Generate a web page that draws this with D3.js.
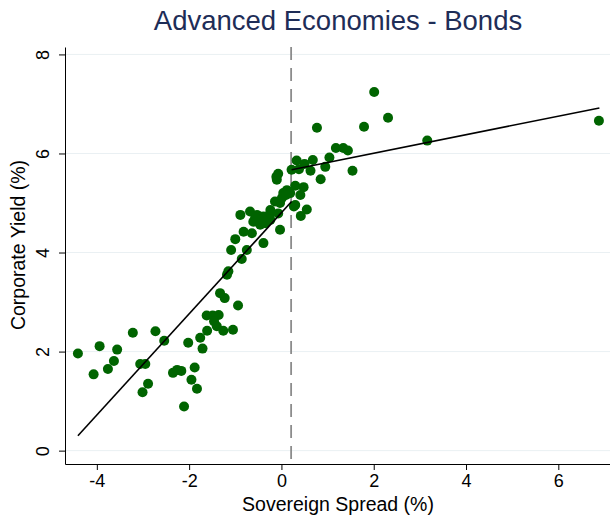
<!DOCTYPE html>
<html>
<head>
<meta charset="utf-8">
<script src="https://cdn.jsdelivr.net/npm/d3@7"></script>
<style>
  body { margin: 0; background: #fff; }
  text { font-family: "Liberation Sans", Arial, sans-serif; }
</style>
</head>
<body>
<div id="chart"></div>
<script>
// sovereign spread (x) and corporate yield (y)
const spread = [
  -4.41, -3.94, -3.56, -3.63, -3.76, -4.07, -3.22, -2.73, -2.54, -3.06,
  -2.95, -2.89, -3.01, -2.02, -1.76, -1.71, -1.88, -2.35, -2.26, -2.17,
  -1.95, -1.83, -2.11, -1.62, -1.49, -1.36, -1.46, -1.40, -1.61, -1.26,
  -1.05, -1.23, -1.33, -0.94, -1.15, -1.18, -1.09, -0.86, -0.75, -0.39,
  -1.00, -0.82, -0.64, -0.89, -0.68, -0.53, -0.61, -0.46, -0.35, -0.24,
  -0.03, -0.39, -0.50, -0.24, -0.14, -0.03, -0.10, -0.07, -0.11, 0.12,
  0.30, 0.48, 0.04, 0.19, 0.41, 0.30, 0.55, 0.42, 0.01, 0.27,
  -0.24, -0.07, 0.33, 0.50, 0.68, 0.95, 0.22, 0.38, 0.63, 1.54,
  0.85, 1.04, 1.18, 1.34, 1.44, 0.77, 1.79, 2.31, 2.01, 3.16,
  6.88, 0.10, -0.57
];
const corpYield = [
  1.96, 2.11, 2.04, 1.81, 1.65, 1.54, 2.38, 2.41, 2.22, 1.75,
  1.75, 1.35, 1.18, 2.18, 2.28, 2.06, 1.68, 1.57, 1.63, 1.61,
  1.43, 1.25, 0.89, 2.73, 2.73, 2.74, 2.61, 2.51, 2.42, 2.42,
  2.44, 3.08, 3.18, 2.93, 3.62, 3.55, 4.05, 3.87, 4.05, 4.19,
  4.27, 4.42, 4.39, 4.76, 4.83, 4.76, 4.62, 4.56, 4.59, 4.66,
  4.46, 4.73, 4.67, 4.79, 5.03, 5.00, 5.47, 5.59, 5.53, 5.26,
  5.35, 5.32, 5.20, 5.20, 5.16, 4.96, 4.87, 4.74, 5.10, 4.93,
  4.86, 4.79, 5.86, 5.79, 5.87, 5.73, 5.67, 5.68, 5.65, 5.65,
  5.48, 5.92, 6.11, 6.11, 6.06, 6.52, 6.54, 6.72, 7.24, 6.26,
  6.66, 5.16, 4.70
];

// fitted lines either side of the threshold
const threshold = 0.21;
const fitLowX = [-4.41, 0.22], fitLowY = [0.30, 5.03];
const fitHighX = [0.22, 6.89], fitHighY = [5.67, 6.92];

const xTicks = [-4, -2, 0, 2, 4, 6];
const yTicks = [0, 2, 4, 6, 8];

const width = 610, height = 521,
  margin = { top: 47, right: 0, bottom: 57, left: 65 };

const x = d3.scaleLinear().domain([-4.69, 7.12]).range([margin.left, width - margin.right]);
const y = d3.scaleLinear().domain([-0.27, 8.15]).range([height - margin.bottom, margin.top]);

const svg = d3.select("#chart").append("svg")
  .attr("width", width).attr("height", height);

// grid
svg.append("g").selectAll("line").data(yTicks).join("line")
  .attr("x1", margin.left).attr("x2", width - margin.right)
  .attr("y1", d => y(d)).attr("y2", d => y(d))
  .attr("stroke", "#eaf0f3").attr("stroke-width", 1);

// axes, plain hyphen for negatives like the original
const fmt = d => String(d);
const xAxis = svg.append("g")
  .attr("transform", `translate(0,${height - margin.bottom})`)
  .call(d3.axisBottom(x).tickValues(xTicks).tickSize(6).tickPadding(4).tickSizeOuter(0).tickFormat(fmt));
xAxis.select(".domain").attr("stroke", "#000");
xAxis.selectAll("text").attr("font-size", 18).attr("fill", "#000");

const yAxis = svg.append("g")
  .attr("transform", `translate(${margin.left},0)`)
  .call(d3.axisLeft(y).tickValues(yTicks).tickSize(6).tickSizeOuter(0).tickFormat(fmt));
yAxis.select(".domain").attr("stroke", "#000");
yAxis.selectAll("text")
  .attr("font-size", 18).attr("fill", "#000")
  .attr("text-anchor", "middle")
  .attr("transform", "translate(-22,0) rotate(-90)")
  .attr("x", 0).attr("dy", "0.35em");

// threshold line
svg.append("line")
  .attr("x1", x(threshold)).attr("x2", x(threshold))
  .attr("y1", margin.top).attr("y2", height - margin.bottom)
  .attr("stroke", "#8c8c8c").attr("stroke-width", 1.8)
  .attr("stroke-dasharray", "13,8");

// points
svg.append("g").selectAll("circle").data(spread).join("circle")
  .attr("cx", d => x(d))
  .attr("cy", (d, i) => y(corpYield[i]))
  .attr("r", 5)
  .attr("fill", "#006400");

// fitted lines
const line = d3.line().x(d => x(d[0])).y(d => y(d[1]));
[[fitLowX, fitLowY], [fitHighX, fitHighY]].forEach(([xs, ys]) => {
  svg.append("path")
    .attr("d", line(d3.zip(xs, ys)))
    .attr("fill", "none").attr("stroke", "#000").attr("stroke-width", 1.6);
});

// titles
svg.append("text")
  .attr("x", 338).attr("y", 30)
  .attr("text-anchor", "middle")
  .attr("font-size", 27.5).attr("fill", "#1e2d57")
  .text("Advanced Economies - Bonds");

svg.append("text")
  .attr("x", 338).attr("y", 511)
  .attr("text-anchor", "middle")
  .attr("font-size", 19.5).attr("fill", "#000")
  .text("Sovereign Spread (%)");

svg.append("text")
  .attr("transform", `translate(25,${245}) rotate(-90)`)
  .attr("text-anchor", "middle")
  .attr("font-size", 19.5).attr("fill", "#000")
  .text("Corporate Yield (%)");
</script>
</body>
</html>
